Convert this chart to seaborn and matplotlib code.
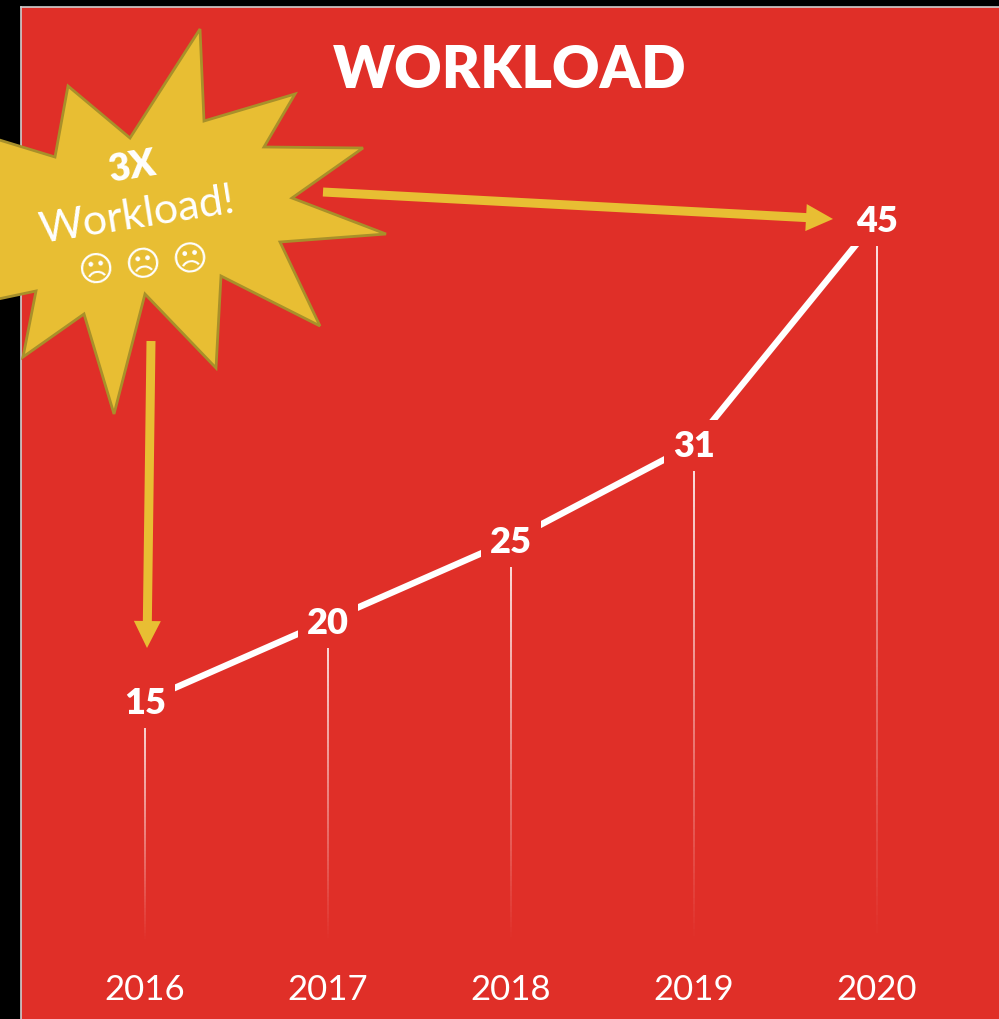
import matplotlib

matplotlib.use("Agg")

import matplotlib.pyplot as plt
import numpy as np
import seaborn as sns
from matplotlib.collections import LineCollection
from matplotlib.patches import FancyArrow, Polygon

years = [2016, 2017, 2018, 2019, 2020]
workload = [15, 20, 25, 31, 45]

title = "WORKLOAD"
burst_head = "3X"
burst_text = "Workload!"
burst_faces = "\u2639 \u2639 \u2639"

RED = "#E02F28"
YELLOW = "#E8BE33"
OLIVE = "#A8902A"


def px_rect(left, top, right, bottom):
    return [left / 999, 1 - bottom / 1020, (right - left) / 999, (bottom - top) / 1020]


def main():
    sns.set_theme(style="white")
    plt.rcParams["font.family"] = ["Lato", "DejaVu Sans"]

    fig = plt.figure(figsize=(9.99, 10.2), dpi=100, facecolor="black")
    ax = fig.add_axes(px_rect(21, 8, 999, 1020), facecolor=RED)

    # stems fade out towards the zero line
    for year, value in zip(years, workload):
        ys = np.linspace(value, 0, 80)
        segs = [[(year, a), (year, b)] for a, b in zip(ys[:-1], ys[1:])]
        alphas = np.linspace(0.9, 0, len(segs))
        colors = [(1, 1, 1, a) for a in alphas]
        ax.add_collection(LineCollection(segs, colors=colors, linewidths=1.4, zorder=1))

    sns.lineplot(x=years, y=workload, ax=ax, color="white", linewidth=4.6, zorder=2, solid_capstyle="butt")

    for year, value in zip(years, workload):
        ax.annotate(
            str(value),
            (year, value),
            xytext=(0, -1),
            textcoords="offset points",
            ha="center",
            va="center",
            fontsize=26,
            fontweight="heavy",
            color="white",
            zorder=3,
            bbox=dict(facecolor=RED, edgecolor="none", pad=6.5),
        )

    ax.set_xlim(2016 - 124 / 183, 2016 + 854 / 183)
    ax.set_ylim(15 - 318 / 16.07, 15 + 694 / 16.07)
    ax.set_xticks(years)
    ax.set_xticklabels(years)
    ax.set_yticks([])
    ax.set_xlabel("")
    ax.set_ylabel("")
    ax.tick_params(axis="x", length=0, pad=-33, labelsize=25, labelcolor="white")
    for side in ["right", "bottom"]:
        ax.spines[side].set_visible(False)
    for side in ["left", "top"]:
        ax.spines[side].set_color("#CFCFCF")
        ax.spines[side].set_linewidth(1.2)

    # callout layer in pixel coordinates of the picture
    over = fig.add_axes([0, 0, 1, 1], facecolor="none")
    over.set_xlim(0, 999)
    over.set_ylim(1020, 0)
    over.axis("off")

    burst = [
        (200, 30), (204, 122), (295, 95), (264, 148), (363, 149), (292, 199),
        (386, 235), (280, 243), (320, 327), (221, 277), (216, 369), (145, 295),
        (114, 415), (84, 315), (23, 358), (36, 292), (-30, 306), (-30, 132),
        (55, 158), (68, 87), (130, 139),
    ]
    over.add_patch(Polygon(burst, closed=True, facecolor=YELLOW, edgecolor=OLIVE, linewidth=2, joinstyle="miter"))

    over.add_patch(FancyArrow(323, 193, 510, 27, width=9, head_width=27, head_length=27,
                              length_includes_head=True, color=YELLOW, linewidth=0))
    over.add_patch(FancyArrow(151, 342, -4, 307, width=9, head_width=27, head_length=27,
                              length_includes_head=True, color=YELLOW, linewidth=0))

    over.text(132, 167, burst_head, rotation=9, rotation_mode="anchor", ha="center", va="center",
              fontsize=27, fontweight="heavy", color="white")
    over.text(137, 216, burst_text, rotation=9, rotation_mode="anchor", ha="center", va="center",
              fontsize=31, fontweight="normal", color="white")
    over.text(144, 266, burst_faces, rotation=6.5, rotation_mode="anchor", ha="center", va="center",
              fontsize=25, color="white", family="DejaVu Sans")

    over.text(510, 71, title, ha="center", va="center", fontsize=42, fontweight="heavy", color="white")

    fig.savefig("out.png", dpi=100, facecolor="black")
    plt.close(fig)


if __name__ == "__main__":
    main()
